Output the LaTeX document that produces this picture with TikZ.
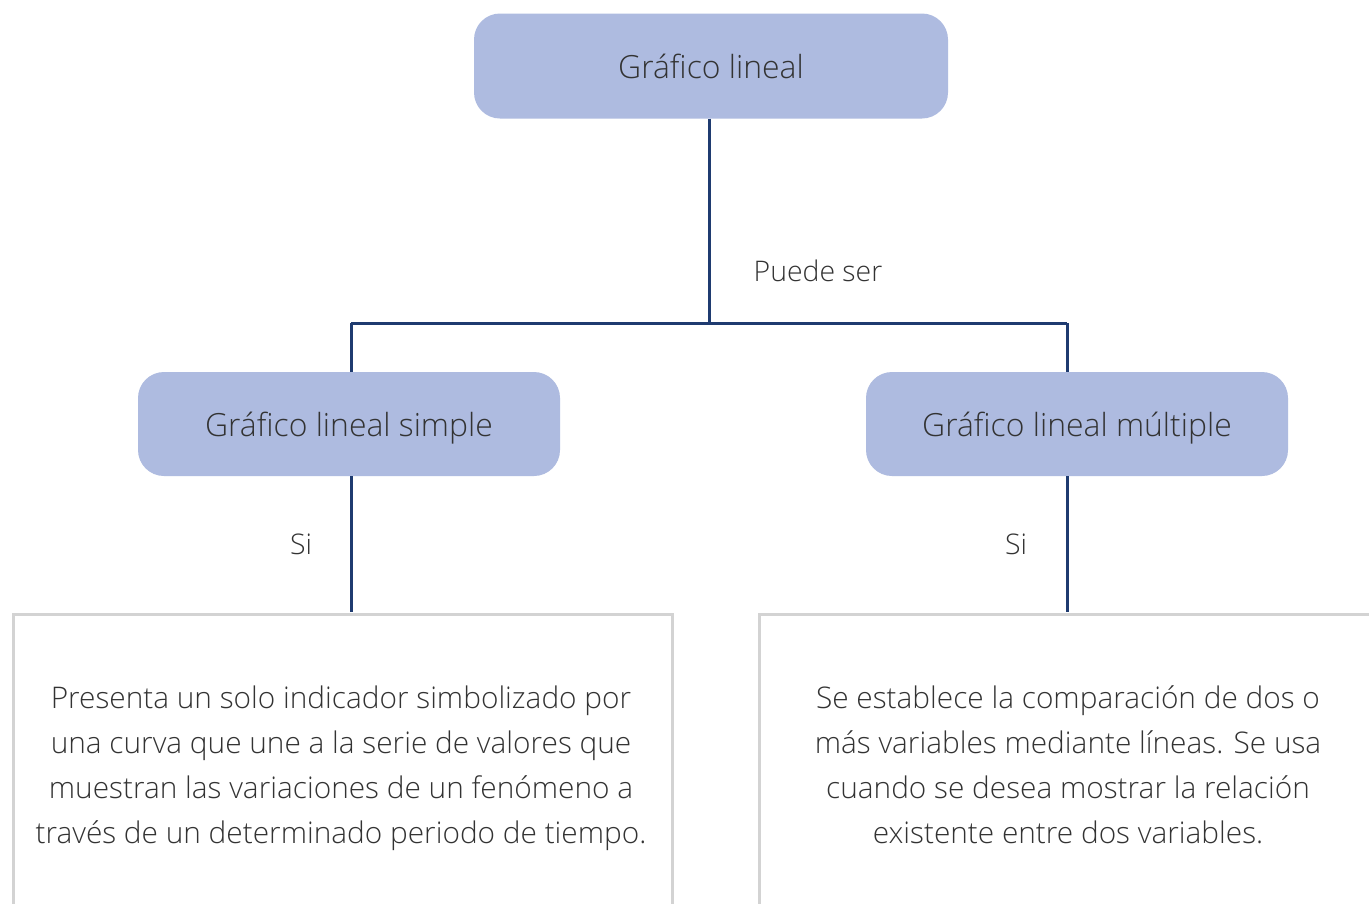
\documentclass[tikz,border=0pt]{standalone}
\usepackage{fontspec}
\setmainfont{Open Sans Light}
\definecolor{boxblue}{HTML}{AEBBE0}
\definecolor{navy}{HTML}{1F3B70}
\definecolor{framegray}{HTML}{D3D3D3}
\definecolor{textgray}{HTML}{333333}
\begin{document}
\begin{tikzpicture}[x=1pt,y=-1pt,
  txt/.style={text=textgray, font=\fontsize{28.4}{45}\selectfont, inner sep=0pt},
  ttl/.style={text=textgray, font=\fontsize{31.9}{36}\selectfont, inner sep=0pt, text height=30pt, text depth=6pt},
  headbox/.style={ttl, fill=boxblue, rounded corners=26pt, minimum width=474pt, minimum height=105pt},
  subbox/.style={ttl, fill=boxblue, rounded corners=26pt, minimum width=422pt, minimum height=104pt},
  framebox/.style={draw=framegray, line width=3pt, inner sep=0pt},
  body/.style={text=textgray, font=\fontsize{29.8}{45}\selectfont, inner sep=0pt, align=center},
  link/.style={draw=navy, line width=3pt}]
\useasboundingbox (0,0) rectangle (1369,903);
\fill[white] (0,0) rectangle (1369,903);
% boxes
\node[headbox] (top) at (711,66) {Gráfico lineal};
\node[subbox] (left) at (349,424) {Gráfico lineal simple};
\node[subbox] (right) at (1077,424) {Gráfico lineal múltiple};
\node[framebox, minimum width=659pt, minimum height=400pt] (lbox) at (342.5,814.5) {};
\node[framebox, minimum width=659pt, minimum height=400pt] (rbox) at (1088.5,814.5) {};
\node[body] (ltext) at (341,768) {Presenta un solo indicador simbolizado por\\una curva que une a la serie de valores que\\muestran las variaciones de un fenómeno a\\través de un determinado periodo de tiempo.};
\node[body] (rtext) at (1068,765) {Se establece la comparación de dos o\\más variables mediante líneas. Se usa\\cuando se desea mostrar la relación\\existente entre dos variables.};
% connectors
\coordinate (jt) at (709,323);
\coordinate (jl) at (351,323);
\coordinate (jr) at (1067,323);
\draw[link] (jt |- top.south) -- (jt);
\draw[link] (jl) -- (jr);
\draw[link] (jl) -- (jl |- left.north);
\draw[link] (jr) -- (jr |- right.north);
\draw[link] (jl |- left.south) -- (351,612);
\draw[link] (jr |- right.south) -- (1067,612);
% labels
\node[txt] (puede) at (818,271) {Puede ser};
\node[txt] (sil) at (301,544) {Si};
\node[txt] (sir) at (1016,544) {Si};
\end{tikzpicture}
\end{document}
